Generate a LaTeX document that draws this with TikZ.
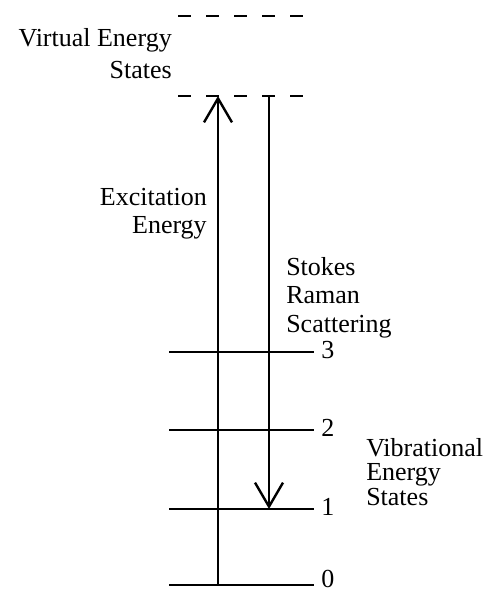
\documentclass[tikz,border=0pt]{standalone}
\usepackage{fontspec}
\setmainfont{Liberation Serif}
\usepackage{tikz}
\usetikzlibrary{positioning,arrows.meta}
\tikzset{
  flowarrow/.style={-{Straight Barb[length=18pt, width=21pt, line width=1.8pt]}, line width=1.2pt},
  lvl/.style={line width=1.2pt},
  virt/.style={line width=1.2pt, dash pattern=on 9.75pt off 11.25pt},
  lbl/.style={font=\fontsize{19.5}{22}\selectfont, inner sep=0pt, align=left},
  numlbl/.style={font=\fontsize{19.5}{22}\selectfont, inner sep=0pt, anchor=base west}
}

\begin{document}
\begin{tikzpicture}[x=0.75pt, y=0.75pt]
  \useasboundingbox (0,0) rectangle (487,594);
  % vibrational levels
  \foreach \n/\y/\dy in {0/9/2, 1/85/6.5, 2/164/6.5, 3/242/6.5} {
    \coordinate (l\n w) at (169,\y);
    \coordinate (l\n e) at (314,\y);
    \draw[lvl] (l\n w) -- (l\n e);
    \node[numlbl] (n\n) at (321,\y-\dy) {\n};
  }
  % virtual levels
  \coordinate (vlw) at (178,498);
  \coordinate (vle) at (306,498);
  \coordinate (vuw) at (178,578);
  \coordinate (vue) at (306,578);
  \draw[virt] (vlw) -- (vle);
  \draw[virt] (vuw) -- (vue);
  % arrows
  \coordinate (exa) at (218,9);
  \coordinate (exb) at (218,498);
  \coordinate (sta) at (269,498);
  \coordinate (stb) at (269,85);
  \draw[flowarrow] (exa) -- (exb);
  \draw[flowarrow] (sta) -- (stb);
  % labels
  \node[lbl, align=right, anchor=north east, font=\fontsize{19.5}{24}\selectfont] (virtlbl) at (172,566) {Virtual Energy\\States};
  \node[lbl, align=right, anchor=north east, font=\fontsize{19.5}{21}\selectfont] (exclbl) at (207,406) {Excitation\\Energy};
  \node[lbl, anchor=north west, font=\fontsize{19.5}{21.5}\selectfont] (stklbl) at (286,337) {Stokes\\Raman\\Scattering};
  \node[lbl, anchor=north west, font=\fontsize{19.5}{18.5}\selectfont] (viblbl) at (366,156) {Vibrational\\Energy\\States};
\end{tikzpicture}
\end{document}
